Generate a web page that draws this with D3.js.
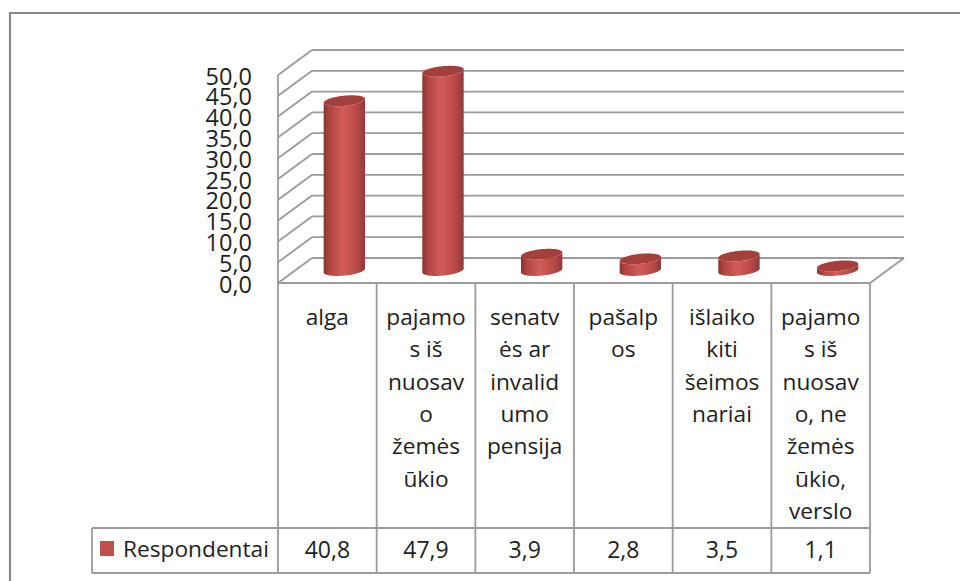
<!DOCTYPE html>
<html>
<head>
<meta charset="utf-8">
<script src="https://cdn.jsdelivr.net/npm/d3@7"></script>
<style>
  html, body { margin: 0; padding: 0; background: #fff; }
  svg { display: block; }
  text { font-family: "Open Sans", sans-serif; fill: #1e1e1e; }
</style>
</head>
<body>
<svg id="chart" width="960" height="581"></svg>
<script>
// ---- data ----
const categories = [
  "alga",
  "pajamos iš nuosavo žemės ūkio",
  "senatvės ar invalidumo pensija",
  "pašalpos",
  "išlaiko kiti šeimos nariai",
  "pajamos iš nuosavo, ne žemės ūkio, verslo"
];
const categoryLines = [
  ["alga"],
  ["pajamo", "s iš", "nuosav", "o", "žemės", "ūkio"],
  ["senatv", "ės ar", "invalid", "umo", "pensija"],
  ["pašalp", "os"],
  ["išlaiko", "kiti", "šeimos", "nariai"],
  ["pajamo", "s iš", "nuosav", "o, ne", "žemės", "ūkio,", "verslo"]
];
const seriesName = "Respondentai";
const values = [40.8, 47.9, 3.9, 2.8, 3.5, 1.1];
const valueLabels = ["40,8", "47,9", "3,9", "2,8", "3,5", "1,1"];
const yTicks = [0, 5, 10, 15, 20, 25, 30, 35, 40, 45, 50];
const yTickLabels = ["0,0", "5,0", "10,0", "15,0", "20,0", "25,0", "30,0", "35,0", "40,0", "45,0", "50,0"];

// ---- layout ----
const svg = d3.select("#chart");
const gridColor = "#9b9b9b";
const frontLeft = 278, frontRight = 870, floorY = 283, topY = 75;
const depthDX = 34, depthDY = -25;
const tableTop = 528, tableBottom = 573, legendLeft = 92;

const x = d3.scaleBand().domain(categories).range([frontLeft, frontRight]).padding(0);
const y = d3.scaleLinear().domain([0, 50]).range([floorY, topY]);

// outer frame
svg.append("path")
  .attr("d", `M10,${581} L10,13 L960,13`)
  .attr("fill", "none").attr("stroke", "#8a8a8a").attr("stroke-width", 2.2);

const grid = svg.append("g").attr("fill", "none").attr("stroke", gridColor).attr("stroke-width", 1.8);

// back wall gridlines
yTicks.forEach(t => {
  grid.append("line")
    .attr("x1", frontLeft + depthDX).attr("x2", frontRight + depthDX)
    .attr("y1", y(t) + depthDY).attr("y2", y(t) + depthDY);
  // side wall lines
  grid.append("line")
    .attr("x1", frontLeft).attr("y1", y(t))
    .attr("x2", frontLeft + depthDX).attr("y2", y(t) + depthDY);
});
// left wall front vertical
grid.append("line").attr("x1", frontLeft).attr("x2", frontLeft)
  .attr("y1", y(50)).attr("y2", tableBottom);
// floor front edge and right diagonal
grid.append("line").attr("x1", frontLeft).attr("x2", frontRight)
  .attr("y1", floorY).attr("y2", floorY);
grid.append("line").attr("x1", frontRight).attr("y1", floorY)
  .attr("x2", frontRight + depthDX).attr("y2", floorY + depthDY);

// y tick labels
svg.append("g").selectAll("text").data(yTicks).join("text")
  .attr("x", 252).attr("y", d => y(d) + 9.5)
  .attr("text-anchor", "end")
  .attr("font-size", 23.5)
  .text((d, i) => yTickLabels[i]);

// ---- cylinders ----
const defs = svg.append("defs");
const grad = defs.append("linearGradient").attr("id", "cyl").attr("x1", 0).attr("x2", 1).attr("y1", 0).attr("y2", 0);
grad.append("stop").attr("offset", "0%").attr("stop-color", "#8a3330");
grad.append("stop").attr("offset", "12%").attr("stop-color", "#ad4340");
grad.append("stop").attr("offset", "45%").attr("stop-color", "#d35c58");
grad.append("stop").attr("offset", "80%").attr("stop-color", "#b84945");
grad.append("stop").attr("offset", "100%").attr("stop-color", "#93383a");

const ux = depthDX / Math.hypot(depthDX, depthDY), uy = depthDY / Math.hypot(depthDX, depthDY);
const ra = 19.3, rb = 9.2;
function ellipsePt(cx, cy, th) {
  return [cx + ra * Math.cos(th) + rb * ux * Math.sin(th), cy + rb * uy * Math.sin(th)];
}
const th0 = Math.atan2(rb * ux, ra); // max x

const bars = svg.append("g");
categories.forEach((c, i) => {
  const cx = x(c) + x.bandwidth() / 2 + depthDX / 2;
  const baseY = y(0) + depthDY / 2;
  const topC = y(values[i]) + depthDY / 2;
  // body: left extreme top -> left extreme bottom -> bottom front arc -> right extreme bottom -> right top -> top front arc back
  const pts = [];
  const n = 40;
  for (let k = 0; k <= n; k++) {
    const th = th0 + Math.PI + Math.PI * k / n;
    pts.push(ellipsePt(cx, baseY, th));
  }
  for (let k = n; k >= 0; k--) {
    const th = th0 + Math.PI + Math.PI * k / n;
    pts.push(ellipsePt(cx, topC, th));
  }
  bars.append("path")
    .attr("d", d3.line()(pts) + "Z")
    .attr("fill", "url(#cyl)");
  const top = [];
  for (let k = 0; k <= 60; k++) top.push(ellipsePt(cx, topC, 2 * Math.PI * k / 60));
  bars.append("path")
    .attr("d", d3.line()(top) + "Z")
    .attr("fill", "#a53f3c");
});

// ---- table ----
const tbl = svg.append("g").attr("fill", "none").attr("stroke", gridColor).attr("stroke-width", 1.8);
categories.forEach((c, i) => {
  tbl.append("line").attr("x1", x(c) + x.bandwidth()).attr("x2", x(c) + x.bandwidth())
    .attr("y1", floorY).attr("y2", tableBottom);
});
tbl.append("line").attr("x1", legendLeft).attr("x2", frontRight).attr("y1", tableTop).attr("y2", tableTop);
tbl.append("line").attr("x1", legendLeft).attr("x2", frontRight).attr("y1", tableBottom).attr("y2", tableBottom);
tbl.append("line").attr("x1", legendLeft).attr("x2", legendLeft).attr("y1", tableTop).attr("y2", tableBottom);

// category labels
const catG = svg.append("g");
categories.forEach((c, i) => {
  const t = catG.append("text")
    .attr("x", x(c) + x.bandwidth() / 2)
    .attr("y", 325)
    .attr("text-anchor", "middle")
    .attr("font-size", 22.7);
  categoryLines[i].forEach((ln, j) => {
    t.append("tspan").attr("x", x(c) + x.bandwidth() / 2).attr("y", 325 + j * 32.3).text(ln);
  });
});

// legend
svg.append("rect").attr("x", 100).attr("y", 541).attr("width", 14).attr("height", 15).attr("fill", "#c0504d");
svg.append("text").attr("x", 123).attr("y", 557).attr("font-size", 22.7).text(seriesName);

// values
svg.append("g").selectAll("text").data(categories).join("text")
  .attr("x", d => x(d) + x.bandwidth() / 2)
  .attr("y", 558)
  .attr("text-anchor", "middle")
  .attr("font-size", 23)
  .text((d, i) => valueLabels[i]);
</script>
</body>
</html>
